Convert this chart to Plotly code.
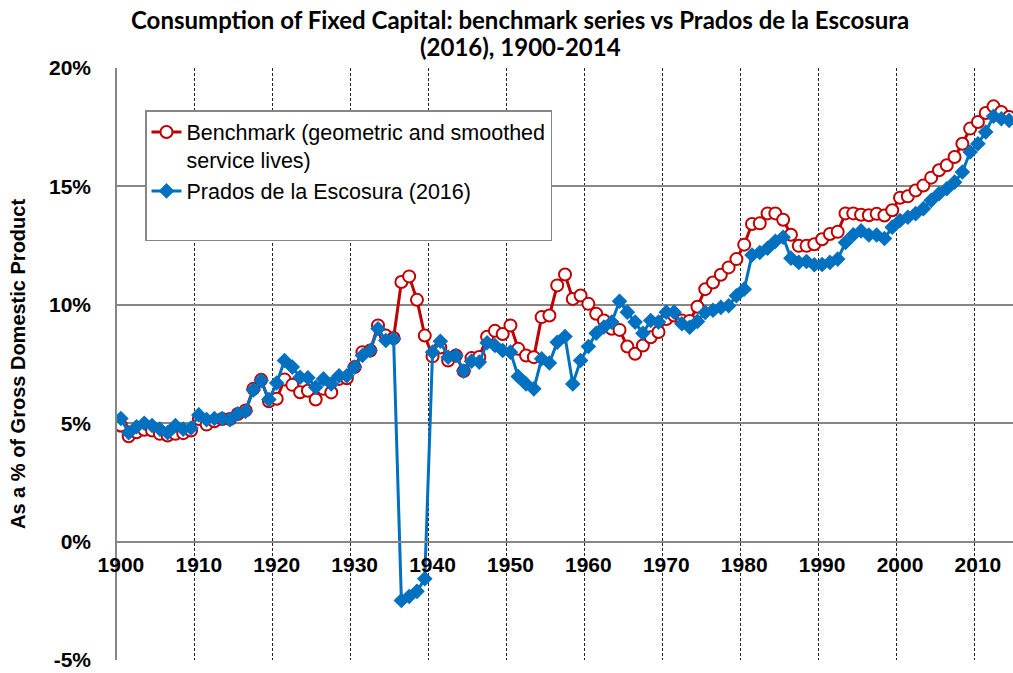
import plotly.graph_objects as go

years = list(range(1900, 2015))

benchmark = [
    4.90, 4.45, 4.62, 4.72, 4.69, 4.55, 4.48, 4.55, 4.58, 4.69,
    5.18, 4.94, 5.08, 5.18, 5.18, 5.39, 5.54, 6.45, 6.83, 5.93,
    6.03, 6.85, 6.62, 6.31, 6.37, 6.00, 6.45, 6.30, 6.87, 6.90,
    7.37, 8.00, 8.07, 9.13, 8.70, 8.60, 10.96, 11.20, 10.21, 8.70,
    7.82, 8.20, 7.65, 7.86, 7.20, 7.75, 7.80, 8.65, 8.90, 8.77,
    9.13, 8.14, 7.86, 7.79, 9.48, 9.55, 10.82, 11.28, 10.25, 10.39,
    10.04, 9.62, 9.34, 8.99, 8.94, 8.24, 7.93, 8.28, 8.63, 8.85,
    9.40, 9.55, 9.34, 9.32, 9.92, 10.66, 10.94, 11.27, 11.58, 11.93,
    12.54, 13.41, 13.44, 13.86, 13.86, 13.59, 12.96, 12.49, 12.49, 12.56,
    12.77, 12.99, 13.08, 13.86, 13.86, 13.80, 13.78, 13.84, 13.77, 13.99,
    14.52, 14.58, 14.83, 15.04, 15.37, 15.68, 15.89, 16.24, 16.80, 17.44,
    17.72, 18.10, 18.38, 18.14, 17.93,
]

prados = [
    5.20, 4.60, 4.85, 5.00, 4.90, 4.75, 4.60, 4.90, 4.75, 4.80,
    5.35, 5.15, 5.20, 5.20, 5.15, 5.40, 5.50, 6.40, 6.80, 6.00,
    6.70, 7.65, 7.37, 6.94, 6.92, 6.52, 6.87, 6.66, 7.00, 7.00,
    7.37, 7.86, 8.07, 8.99, 8.49, 8.56, -2.49, -2.32, -2.10, -1.57,
    8.00, 8.46, 7.79, 7.86, 7.20, 7.62, 7.58, 8.40, 8.28, 8.07,
    8.00, 6.97, 6.66, 6.45, 7.72, 7.54, 8.42, 8.66, 6.66, 7.65,
    8.24, 8.80, 9.06, 9.27, 10.15, 9.69, 9.27, 8.80, 9.34, 9.27,
    9.69, 9.69, 9.20, 9.05, 9.30, 9.68, 9.77, 9.89, 9.96, 10.38,
    10.66, 12.10, 12.21, 12.39, 12.68, 12.85, 11.97, 11.79, 11.83, 11.69,
    11.70, 11.79, 11.93, 12.63, 12.96, 13.12, 12.95, 12.95, 12.80, 13.28,
    13.56, 13.70, 13.85, 14.06, 14.41, 14.69, 14.90, 15.18, 15.61, 16.45,
    16.80, 17.30, 17.96, 17.86, 17.79,
]

decade_ticks = list(range(1900, 2020, 10))
decade_labels = [str(y) for y in decade_ticks]
y_ticks = [-5, 0, 5, 10, 15, 20]
y_labels = [f"{v}%" for v in y_ticks]

title_lines = [
    "Consumption of Fixed Capital: benchmark series vs Prados de la Escosura",
    "(2016), 1900-2014",
]

RED = "#C00000"
BLUE = "#0070C0"
GRID = "#868686"
ARIAL = "Arial, Liberation Sans, sans-serif"

PLOT_L, PLOT_T, PLOT_W, PLOT_H = 117, 68, 896, 592
FIG_W, FIG_H = 1013, 673

fig = go.Figure()
fig.add_trace(go.Scatter(
    x=years, y=benchmark, mode="lines+markers",
    name="Benchmark (geometric and smoothed<br>service lives)",
    legendgroup="a",
    line=dict(color=RED, width=3),
    marker=dict(symbol="circle", size=12, color="white",
                line=dict(color=RED, width=2)),
))
fig.add_trace(go.Scatter(
    x=years, y=prados, mode="lines+markers",
    name="Prados de la Escosura (2016)<br> ",
    legendgroup="b",
    line=dict(color=BLUE, width=3),
    marker=dict(symbol="diamond", size=12, color=BLUE,
                line=dict(color=BLUE, width=0)),
))

fig.update_layout(
    width=FIG_W, height=FIG_H,
    margin=dict(l=PLOT_L, r=FIG_W - PLOT_L - PLOT_W, t=PLOT_T,
                b=FIG_H - PLOT_T - PLOT_H),
    paper_bgcolor="white", plot_bgcolor="white",
    font=dict(family=ARIAL, color="black"),
    xaxis=dict(
        range=[1899.5, 2014.5], automargin=False,
        tickmode="array", tickvals=decade_ticks, ticktext=decade_labels,
        tickfont=dict(size=21, family=ARIAL, weight="bold"),
        showgrid=False, zeroline=False,
        showline=True, linecolor=GRID, linewidth=1.5,
        anchor="free", position=0.2,
        ticks="", ticklabelstandoff=4,
        minor=dict(tick0=1909.5, dtick=10, showgrid=True,
                   gridcolor="#222222", griddash="3px,2px", gridwidth=1, ticks=""),
    ),
    yaxis=dict(
        range=[-5, 20], automargin=False,
        tickmode="array", tickvals=y_ticks, ticktext=y_labels,
        tickfont=dict(size=21, family=ARIAL, weight="bold"),
        showgrid=True, gridcolor=GRID, gridwidth=1.5,
        zeroline=False, showline=True, linecolor=GRID, linewidth=1.5,
        ticks="", ticklabelstandoff=20,
    ),
    legend=dict(
        x=(145 - 117) / PLOT_W, y=(660 - 110) / PLOT_H, xanchor="left", yanchor="top",
        bgcolor="white", bordercolor=GRID, borderwidth=1.5,
        font=dict(size=21.5, family=ARIAL),
        tracegroupgap=3, itemwidth=30, traceorder="normal", valign="top",
    ),
    showlegend=True,
)

# title, one annotation per line (page y of line centres)
for txt, page_y in zip(title_lines, [19, 47]):
    fig.add_annotation(
        text=f"<b>{txt}</b>",
        xref="paper", yref="paper", x=(520 - 117) / PLOT_W,
        y=(660 - page_y) / PLOT_H,
        xanchor="center", yanchor="middle", showarrow=False,
        font=dict(family="Lato, Carlito, sans-serif", size=24, color="black"),
    )

fig.add_annotation(
    text="<b>As a % of Gross Domestic Product</b>",
    textangle=-90, xref="paper", yref="paper",
    x=-(117 - 18) / PLOT_W, y=0.5, xanchor="center", yanchor="middle",
    showarrow=False, font=dict(size=20, family=ARIAL),
)

fig.write_html(
    "out.html",
    config={"displayModeBar": False},
    post_script="document.body.style.margin='0';document.body.style.overflow='hidden';",
)
